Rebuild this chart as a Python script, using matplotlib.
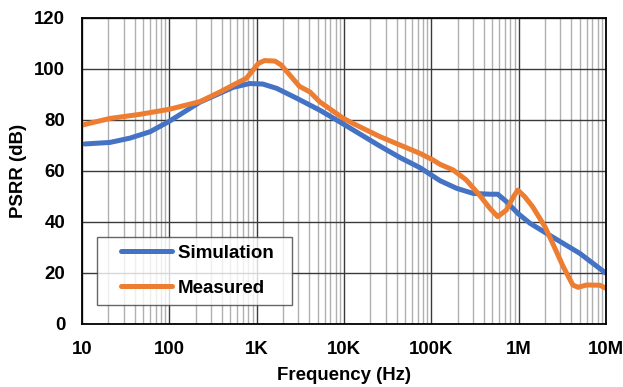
import numpy as np
import matplotlib
matplotlib.use("Agg")
import matplotlib.pyplot as plt
from matplotlib.ticker import FixedLocator, LogLocator, NullFormatter
from matplotlib.legend_handler import HandlerLine2D

plt.rcParams['font.family'] = ['Liberation Sans', 'DejaVu Sans']
plt.rcParams['font.weight'] = 'bold'

# Simulation curve: log10(frequency / Hz) and PSRR (dB)
sim_logf = [1.03, 1.32, 1.55, 1.78, 2.0, 2.35, 2.58, 2.73, 2.92, 3.07, 3.23, 3.46,
            3.72, 3.95, 4.41, 4.64, 4.87, 5.10, 5.29, 5.48, 5.67, 5.76, 5.86,
            5.99, 6.13, 6.35, 6.70, 7.0]
sim_db = [70.6, 71.2, 72.9, 75.4, 79.5, 87.0, 90.5, 92.8, 94.3, 94.1, 92.4, 88.5,
          83.9, 79.3, 69.8, 65.3, 61.3, 56.2, 53.2, 51.2, 50.9, 50.9, 48.0,
          43.4, 39.5, 34.9, 27.7, 19.9]

# Measured curve: log10(frequency / Hz) and PSRR (dB)
meas_logf = [1.0, 1.32, 1.66, 2.0, 2.35, 2.58, 2.77, 2.88, 2.96, 3.02, 3.09, 3.21,
             3.28, 3.38, 3.49, 3.61, 3.72, 3.99, 4.10, 4.41, 4.64, 4.87, 5.02,
             5.10, 5.25, 5.40, 5.55, 5.67, 5.76, 5.86, 5.94, 5.99, 6.07, 6.16,
             6.30, 6.39, 6.51, 6.62, 6.68, 6.78, 6.93, 7.0]
meas_db = [78.0, 80.6, 82.2, 84.2, 87.2, 91.0, 94.4, 96.3, 99.6, 102.2, 103.3, 103.1,
           101.6, 97.6, 93.2, 91.0, 87.2, 80.7, 78.7, 73.5, 70.2, 66.9, 64.3,
           62.6, 60.4, 56.5, 50.6, 45.4, 42.1, 44.7, 49.9, 52.5, 49.9, 46.0,
           38.2, 31.6, 22.5, 15.3, 14.4, 15.3, 15.2, 14.0]

x_ticks = [10, 100, 1e3, 1e4, 1e5, 1e6, 1e7]
x_labels = ['10', '100', '1K', '10K', '100K', '1M', '10M']
y_ticks = [0, 20, 40, 60, 80, 100, 120]
series_names = ['Simulation', 'Measured']

sim_f = [10 ** v for v in sim_logf]
meas_f = [10 ** v for v in meas_logf]


class PaddedLine(HandlerLine2D):
    def __init__(self, pad_px, **kw):
        super().__init__(**kw)
        self.pad_px = pad_px

    def create_artists(self, legend, orig_handle, xdescent, ydescent, width,
                       height, fontsize, trans):
        return super().create_artists(legend, orig_handle, xdescent - self.pad_px,
                                      ydescent, width - self.pad_px, height,
                                      fontsize, trans)


fig = plt.figure(figsize=(6.23, 3.87), dpi=100)
ax = fig.add_axes([0.1316, 0.1628, 0.9727 - 0.1316, 0.9535 - 0.1628])

ax.set_xscale('log')
ax.set_xlim(10, 1e7)
ax.set_ylim(0, 120)

ax.xaxis.set_major_locator(FixedLocator(x_ticks))
ax.set_xticks(x_ticks)
ax.set_xticklabels(x_labels)
ax.xaxis.set_minor_locator(LogLocator(base=10, subs=np.arange(2, 10)))
ax.xaxis.set_minor_formatter(NullFormatter())
ax.set_yticks(y_ticks)

ax.grid(which='major', color='#3a3a3a', linewidth=1.0)
ax.grid(which='minor', axis='x', color='#b0b0b0', linewidth=1.0)
ax.set_axisbelow(True)

l1, = ax.plot(sim_f, sim_db, color='#4472C4', linewidth=3.6,
              solid_capstyle='round', solid_joinstyle='round')
l2, = ax.plot(meas_f, meas_db, color='#ED7D31', linewidth=3.6,
              solid_capstyle='round', solid_joinstyle='round')

for s in ax.spines.values():
    s.set_color('black')
    s.set_linewidth(1.3)

ax.tick_params(which='both', length=0, labelsize=13.4)
ax.tick_params(axis='x', pad=12)
ax.tick_params(axis='y', pad=12)
for lab in ax.get_xticklabels() + ax.get_yticklabels():
    lab.set_fontweight('bold')

ax.set_xlabel('Frequency (Hz)', fontsize=13.4, fontweight='bold', labelpad=7)
ax.set_ylabel('PSRR (dB)', fontsize=13.4, fontweight='bold', labelpad=5)

h = PaddedLine(pad_px=11.5)
leg = ax.legend([l1, l2], [series_names[0] + '  ', series_names[1]],
                loc='lower left', bbox_to_anchor=(0.0286, 0.0623), fontsize=13.5,
                frameon=True, fancybox=False, edgecolor='#404040',
                handlelength=3.6, borderpad=0.42, labelspacing=0.97,
                handletextpad=0.3, borderaxespad=0,
                handler_map={l1: h, l2: h})
leg.get_frame().set_linewidth(1.0)
for t in leg.get_texts():
    t.set_fontweight('bold')

fig.savefig('out.png', dpi=100)
